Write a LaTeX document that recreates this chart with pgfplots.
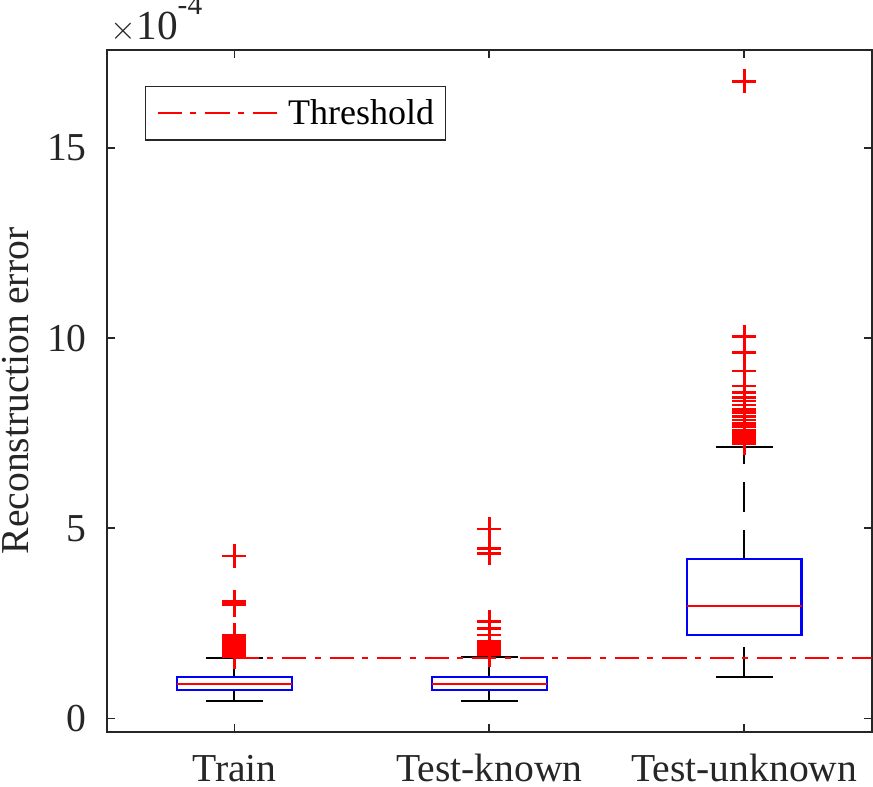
\documentclass[border=0pt]{standalone}
\usepackage{fontspec}
\setmainfont{Liberation Serif}
\usepackage{pgfplots}
\pgfplotsset{compat=1.18}
\definecolor{axgray}{rgb}{0.15,0.15,0.15}
\begin{document}
\begin{tikzpicture}
\useasboundingbox (-80.25pt,-41.25pt) rectangle (574.5pt,549pt);
\begin{axis}[
  name=ax,
  at={(0pt,0pt)}, anchor=south west,
  scale only axis, width=573.5pt, height=511.5pt,
  xmin=0.5, xmax=3.5, ymin=-0.355, ymax=17.58,
  xtick={1,2,3}, xticklabels={Train,Test-known,Test-unknown},
  ytick={0,5,10,15},
  scaled y ticks=false,
  tick align=inside, tick pos=both,
  major tick length=6pt,
  axis line style={axgray, line width=1.3pt},
  every tick/.style={axgray, line width=1.3pt},
  tick label style={font=\fontsize{29.7}{34}\selectfont, text=axgray},
  /pgf/number format/assume math mode=true,
  yticklabel style={anchor=east, inner sep=0pt, xshift=-15pt},
  xticklabel style={anchor=base, inner sep=0pt, yshift=-37.5pt},
  ylabel={Reconstruction error},
  ylabel style={at={(axis description cs:-0.1033,0.5)}, anchor=base, inner sep=0pt, font=\fontsize{29.7}{34}\selectfont, text=axgray},
  legend style={at={(0.0497,0.9477)}, anchor=north west, draw=axgray, line width=1pt,
    inner xsep=8.5pt, inner ysep=10pt, column sep=7pt,
    font=\fontsize{27}{31}\selectfont, nodes={inner sep=0pt}},
  legend image code/.code={\draw[#1] (0pt,0pt) -- (90pt,0pt);},
  clip=true,
]
% ---------- Train ----------
\addplot[forget plot, black, line width=1.5pt, dash pattern=on 22pt off 13.5pt] coordinates {(1,1.083) (1,1.58)};
\addplot[forget plot, black, line width=1.5pt, dash pattern=on 22pt off 13.5pt] coordinates {(1,0.45) (1,0.75)};
\addplot[forget plot, black, line width=1.5pt] coordinates {(0.888,1.58) (1.112,1.58)};
\addplot[forget plot, black, line width=1.5pt] coordinates {(0.888,0.45) (1.112,0.45)};
\addplot[forget plot, blue, line width=1.7pt, line cap=rect] coordinates {(0.775,0.75) (1.225,0.75) (1.225,1.083) (0.775,1.083) (0.775,0.75)};
\addplot[forget plot, red, line width=1.3pt] coordinates {(0.775,0.90) (1.225,0.90)};
% ---------- Test-known ----------
\addplot[forget plot, black, line width=1.5pt, dash pattern=on 22pt off 13.5pt] coordinates {(2,1.10) (2,1.62)};
\addplot[forget plot, black, line width=1.5pt, dash pattern=on 22pt off 13.5pt] coordinates {(2,0.45) (2,0.74)};
\addplot[forget plot, black, line width=1.5pt] coordinates {(1.888,1.62) (2.112,1.62)};
\addplot[forget plot, black, line width=1.5pt] coordinates {(1.888,0.45) (2.112,0.45)};
\addplot[forget plot, blue, line width=1.7pt, line cap=rect] coordinates {(1.775,0.74) (2.225,0.74) (2.225,1.10) (1.775,1.10) (1.775,0.74)};
\addplot[forget plot, red, line width=1.3pt] coordinates {(1.775,0.91) (2.225,0.91)};
% ---------- Test-unknown ----------
\addplot[forget plot, black, line width=1.5pt, dash pattern=on 22pt off 13.5pt] coordinates {(3,4.19) (3,7.14)};
\addplot[forget plot, black, line width=1.5pt, dash pattern=on 22pt off 13.5pt] coordinates {(3,1.10) (3,2.20)};
\addplot[forget plot, black, line width=1.5pt] coordinates {(2.888,7.14) (3.112,7.14)};
\addplot[forget plot, black, line width=1.5pt] coordinates {(2.888,1.10) (3.112,1.10)};
\addplot[forget plot, blue, line width=1.7pt, line cap=rect] coordinates {(2.775,2.20) (3.225,2.20) (3.225,4.19) (2.775,4.19) (2.775,2.20)};
\addplot[forget plot, red, line width=1.3pt] coordinates {(2.775,2.96) (3.225,2.96)};
% ---------- Threshold ----------
\addplot[red, line width=1.4pt, dash pattern=on 18.2pt off 6.2pt on 4.5pt off 6.75pt] coordinates {(1,1.58) (3.5,1.58)};
\addlegendentry{Threshold}
% ---------- Outliers ----------
\addplot[forget plot, only marks, red, mark=+, mark size=9pt, line width=2pt, mark options={solid, line width=2pt}] coordinates {
(1,4.27) (1,3.07) (1,2.99) (1,2.20) (1,2.15) (1,2.08) (1,2.05) (1,2.01) (1,1.97) (1,1.94)
(1,1.90) (1,1.87) (1,1.84) (1,1.81) (1,1.78) (1,1.75) (1,1.72) (1,1.69) (1,1.66) (1,1.63)};
\addplot[forget plot, only marks, red, mark=+, mark size=9pt, line width=2pt, mark options={solid, line width=2pt}] coordinates {
(2,4.98) (2,4.47) (2,4.34) (2,2.55) (2,2.37) (2,2.20) (2,2.02) (2,1.98) (2,1.94) (2,1.90)
(2,1.87) (2,1.84) (2,1.81) (2,1.78) (2,1.75) (2,1.72) (2,1.69) (2,1.67)};
\addplot[forget plot, only marks, red, mark=+, mark size=9pt, line width=2pt, mark options={solid, line width=2pt}] coordinates {
(3,16.76) (3,10.04) (3,9.62) (3,9.14) (3,8.74) (3,8.57) (3,8.45) (3,8.35) (3,8.24) (3,8.13)
(3,8.05) (3,7.95) (3,7.85) (3,7.76) (3,7.68) (3,7.58) (3,7.53) (3,7.48) (3,7.44) (3,7.40)
(3,7.36) (3,7.32) (3,7.28) (3,7.24)};
\end{axis}
\node[anchor=base west, inner sep=0pt, text=axgray, font=\fontsize{31}{36}\selectfont,
  xshift=2.5pt, yshift=7.5pt] at (ax.north west) {$\times$10\raisebox{19pt}{\fontsize{22}{26}\selectfont -4}};
\end{tikzpicture}
\end{document}
